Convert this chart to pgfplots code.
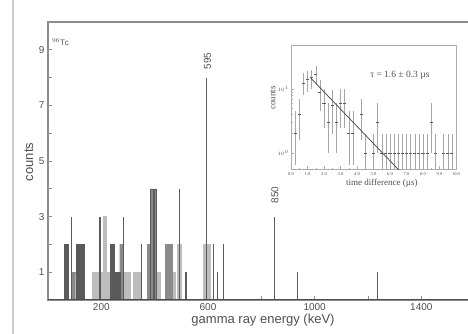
\documentclass[border=0pt]{standalone}
\usepackage{fontspec}
\setmainfont{Liberation Serif}
\setsansfont{Liberation Sans}
\usepackage{pgfplots}
\pgfplotsset{compat=1.18}
\definecolor{axgray}{HTML}{8C8C8C}
\definecolor{txtgray}{HTML}{505050}
\definecolor{bardark}{HTML}{5A5A5A}
\definecolor{barmid}{HTML}{8A8A8A}
\definecolor{barlight}{HTML}{BDBDBD}
\begin{document}
\begin{tikzpicture}
\path[use as bounding box] (0pt,0pt) rectangle (468pt,334pt);
\fill[white] (0pt,0pt) rectangle (468pt,334pt);
\draw[gray!40, line width=1.2pt] (13pt,0pt) -- (13pt,334pt);
\begin{axis}[at={(48pt,34pt)}, anchor=south west, scale only axis,
  width=426.7pt, height=278pt,
  xmin=0, xmax=1600, ymin=0, ymax=10,
  axis line style={axgray, line width=1.1pt},
  tick pos=left, tick align=inside,
  major tick length=4pt,
  tick style={axgray, line width=0.8pt},
  xtick={200,400,...,1400}, xticklabels={200,,600,,1000,,1400},
  ytick={1,...,9}, yticklabels={1,,3,,5,,7,,9},
  /pgf/number format/assume math mode=true,
  tick label style={font=\sffamily\fontsize{10}{10}\selectfont, text=txtgray},
  clip=true]
% light bars
\addplot[ybar, bar shift=0pt, bar width=25, fill=barlight, draw=barlight] coordinates {(179,1) (333,1) (295,1)};
\addplot[ybar, bar shift=0pt, bar width=12, fill=barlight, draw=barlight] coordinates {(202,1) (225,1) (415,1) (472,1) (492,2) (588,2) (603,2) (213,3)};
% mid bars
\addplot[ybar, bar shift=0pt, bar width=12, fill=barmid, draw=barmid] coordinates {(98,1) (275,2) (378,2) (447,2) (460,2)};
\addplot[ybar, bar shift=0pt, bar width=10, fill=barmid, draw=bardark] coordinates {(390,4) (402,4)};
% dark bars
\addplot[ybar, bar shift=0pt, bar width=15, fill=bardark, draw=bardark] coordinates {(68,2) (113,2) (128,2) (240,2)};
\addplot[ybar, bar shift=0pt, bar width=20, fill=bardark, draw=bardark] coordinates {(260,1)};
% narrow lines
\addplot[ycomb, line width=1.3pt, color=bardark] coordinates {(87,3) (195,3) (284,3) (350,2) (492,4) (517,1) (595,8) (620,2) (635,1) (657,2) (850,3) (935,1) (1235,1)};
% baseline
\addplot[black!70, line width=1.4pt] coordinates {(0,0) (1600,0)};
\node[rotate=90, font=\sffamily\fontsize{10}{10}\selectfont, text=txtgray] at (axis cs:598,8.6) {595};
\node[rotate=90, font=\sffamily\fontsize{10}{10}\selectfont, text=txtgray] at (axis cs:851,3.78) {850};
\node[anchor=west, font=\sffamily\fontsize{8}{8}\selectfont, text=txtgray, inner sep=0pt] at (axis cs:15,9.28) {$^{96}$T\textsc{c}};
\end{axis}
\node[rotate=90, font=\sffamily\fontsize{13}{13}\selectfont, text=txtgray] at (29pt,172pt) {counts};
\node[font=\sffamily\fontsize{13}{13}\selectfont, text=txtgray] at (263pt,14pt) {gamma ray energy (keV)};
% inset
\begin{axis}[at={(291pt,164.7pt)}, anchor=south west, scale only axis,
  width=165pt, height=124.3pt,
  ymode=log, xmin=0, xmax=10, ymin=0.556, ymax=48.7,
  axis background/.style={fill=white},
  axis line style={gray!65, line width=0.8pt},
  tick pos=left, tick align=inside,
  major tick length=3pt, minor tick length=1.5pt,
  tick style={gray!65, line width=0.5pt},
  xtick={0,...,10},
  xticklabels={0.0,1.0,2.0,3.0,4.0,5.0,6.0,7.0,8.0,9.0,10.0},
  minor x tick num=1,
  ytick={1,10},
  tick label style={font=\fontsize{4.5}{5}\selectfont, text=txtgray},
  yticklabel style={xshift=1pt},
  xlabel={time difference (µs)},
  ylabel={counts},
  label style={font=\fontsize{9}{9}\selectfont, text=txtgray},
  xlabel style={at={(axis description cs:0.55,-0.113)}, anchor=center},
  ylabel style={at={(axis description cs:-0.11,0.574)}, anchor=center},
  clip=true]
\addplot[only marks, mark=-, mark size=1.6pt, color=bardark, line width=0.5pt,
  error bars/.cd, y dir=both, y explicit, error bar style={gray!70, line width=0.5pt}, error mark=none]
  coordinates {
  (0.25,2) += (0,2.5) -= (0,1.35)
  (0.5,4) += (0,3) -= (0,2.4)
  (0.75,12.5) += (0,5) -= (0,4.5)
  (1.0,14) += (0,5) -= (0,5)
  (1.25,15) += (0,5) -= (0,5)
  (1.5,17) += (0,5.5) -= (0,5.5)
  (1.75,9) += (0,5) -= (0,4.5)
  (2.0,6) += (0,4) -= (0,3.5)
  (2.25,3) += (0,3) -= (0,2)
  (2.5,5.5) += (0,4) -= (0,3.5)
  (2.75,3) += (0,3) -= (0,2)
  (3.0,6) += (0,4) -= (0,3.5)
  (3.25,6) += (0,4) -= (0,3.5)
  (3.5,2) += (0,2.5) -= (0,1.35)
  (3.75,2) += (0,2.5) -= (0,1.35)
  (4.25,4) += (0,3) -= (0,2.4)
  (4.5,1) += (0,1) -= (0,0.6)
  (5.0,1) += (0,1) -= (0,0.6)
  (5.25,3) += (0,3) -= (0,2)
  (5.5,1) += (0,1) -= (0,0.6)
  (5.75,1) += (0,1) -= (0,0.6)
  (6.0,1) += (0,1) -= (0,0.6)
  (6.25,1) += (0,1) -= (0,0.6)
  (6.5,1) += (0,1) -= (0,0.6)
  (6.75,1) += (0,1) -= (0,0.6)
  (7.0,1) += (0,1) -= (0,0.6)
  (7.25,1) += (0,1) -= (0,0.6)
  (7.5,1) += (0,1) -= (0,0.6)
  (7.75,1) += (0,1) -= (0,0.6)
  (8.0,1) += (0,1) -= (0,0.6)
  (8.25,1) += (0,1) -= (0,0.6)
  (8.5,3) += (0,3) -= (0,2)
  (8.75,1) += (0,1) -= (0,0.6)
  (9.25,1) += (0,1) -= (0,0.6)
  (9.5,1) += (0,1) -= (0,0.6)
  (9.75,1) += (0,1) -= (0,0.6)
  };
\addplot[color=black!75, line width=0.7pt] coordinates {(1.16,15.2) (6.6,0.52)};
\node[font=\fontsize{9.5}{10}\selectfont, text=txtgray] at (axis description cs:0.66,0.759) {τ = 1.6 ± 0.3 µs};
\end{axis}
\end{tikzpicture}
\end{document}
